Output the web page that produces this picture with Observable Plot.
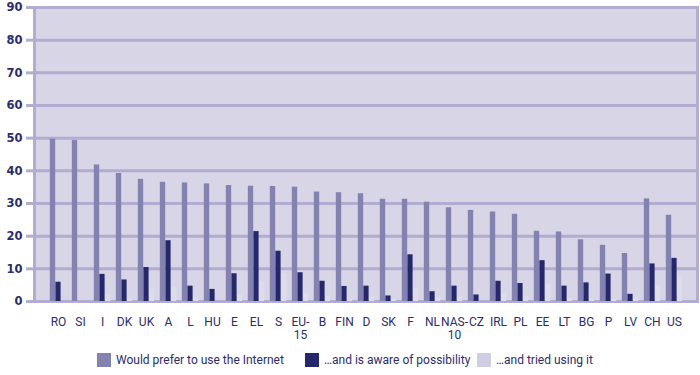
<!DOCTYPE html>
<html><head><meta charset="utf-8">
<script src="https://cdn.jsdelivr.net/npm/d3@7"></script>
<script src="https://cdn.jsdelivr.net/npm/@observablehq/plot@0.6"></script>
<style>
body{margin:0;background:#fff;font-family:Roboto,sans-serif;}
#chart svg{display:block;}
#legend{position:relative;height:30px;font-size:12px;color:#2b2d6e;}
#legend .item{position:absolute;top:8px;display:flex;align-items:center;white-space:nowrap;}
#legend .sw{width:14px;height:14px;margin-right:5px;}
</style></head><body>
<div id="chart"></div>
<div id="legend"></div>
<script>
const countries = ["RO","SI","I","DK","UK","A","L","HU","E","EL","S","EU-15","B","FIN","D","SK","F","NL","NAS-10","CZ","IRL","PL","EE","LT","BG","P","LV","CH","US"];
const xLabels = ["RO","SI","I","DK","UK","A","L","HU","E","EL","S","EU-\n15","B","FIN","D","SK","F","NL","NAS-\n10","CZ","IRL","PL","EE","LT","BG","P","LV","CH","US"];
const prefer = [49.7,49.3,41.8,39.2,37.4,36.5,36.3,36.0,35.5,35.3,35.2,35.0,33.5,33.3,33.0,31.3,31.3,30.4,28.7,27.9,27.4,26.7,21.5,21.3,18.9,17.2,14.7,31.4,26.4];
const aware = [5.9,0,8.3,6.6,10.4,18.6,4.7,3.7,8.5,21.4,15.4,8.8,6.2,4.6,4.7,1.7,14.3,3.0,4.7,2.0,6.2,5.5,12.5,4.7,5.7,8.4,2.2,11.5,13.2];
const tried = [0,0,2.2,0.9,3.8,4.4,1.0,0,1.9,5.9,8.7,2.5,1.5,0.3,1.3,0.5,4.1,1.3,1.3,0,2.5,1.6,5.2,1.0,1.0,0.5,1.0,4.7,7.5];
const yTicks = [0,10,20,30,40,50,60,70,80,90];
const seriesNames = ["Would prefer to use the Internet","…and is aware of possibility","…and tried using it"];
const seriesColors = ["#8482b1","#25286a","#dedcea"];

const rows = countries.map((c, i) => ({country: c, prefer: prefer[i], aware: aware[i], tried: tried[i]}));
const labelOf = new Map(countries.map((c, i) => [c, xLabels[i]]));
const navy = "#2b2d6e";
const grid = "#b1acd0";

const chart = Plot.plot({
  width: 700, height: 345,
  marginTop: 7, marginBottom: 44, marginLeft: 34, marginRight: 3,
  style: {fontFamily: "Roboto, sans-serif", fontSize: "12px", color: navy, background: "transparent", overflow: "visible"},
  x: {domain: countries, paddingInner: 0, paddingOuter: 0.3, axis: null},
  y: {domain: [0, 90], axis: null},
  marks: [
    Plot.frame({fill: "#d8d6e6", stroke: grid, strokeWidth: 3}),
    Plot.ruleY(yTicks, {stroke: grid, strokeWidth: 3}),
    Plot.barY(rows, {x: "country", y: "prefer", fill: seriesColors[0], insetLeft: 2.8, insetRight: 13.8}),
    Plot.barY(rows, {x: "country", y: "aware", fill: seriesColors[1], insetLeft: 8.4, insetRight: 8.4}),
    Plot.barY(rows, {x: "country", y: "tried", fill: seriesColors[2], insetLeft: 14, insetRight: 2.8}),
    Plot.axisY(yTicks, {tickSize: 8, tickPadding: 4, stroke: grid, strokeWidth: 3, fill: navy, fontWeight: "bold", fontFamily: "'DejaVu Sans', sans-serif", fontSize: 11.5, label: null}),
    Plot.axisX({tickSize: 0, tickPadding: 16, tickFormat: d => labelOf.get(d), fill: navy, fontSize: 12, lineHeight: 1.05, label: null})
  ]
});
document.getElementById("chart").appendChild(chart);

const legendX = [97, 305, 477];
const legend = document.getElementById("legend");
seriesNames.forEach((n, i) => {
  const it = document.createElement("div");
  it.className = "item";
  it.style.left = legendX[i] + "px";
  const sw = document.createElement("div");
  sw.className = "sw";
  sw.style.background = i === 2 ? "#cfcde2" : seriesColors[i];
  const t = document.createElement("span");
  t.textContent = n;
  it.appendChild(sw); it.appendChild(t);
  legend.appendChild(it);
});
</script>
</body></html>
